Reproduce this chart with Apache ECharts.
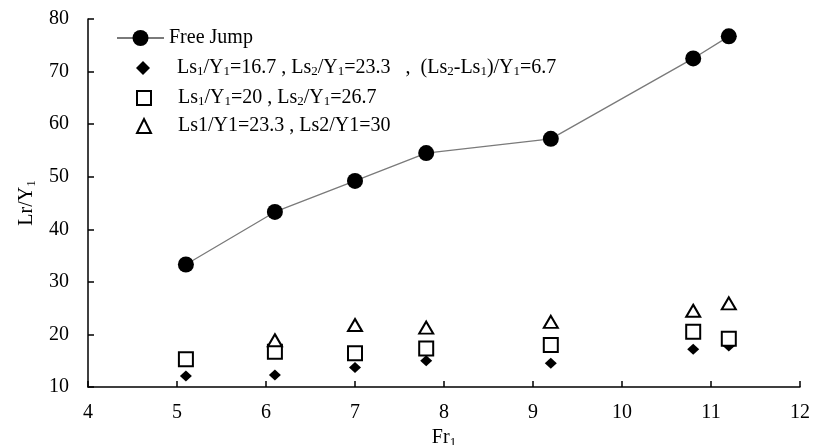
<!DOCTYPE html>
<html>
<head>
<meta charset="utf-8">
<script src="https://cdn.jsdelivr.net/npm/echarts@6/dist/echarts.min.js"></script>
<style>
  html, body { margin: 0; padding: 0; background: #fff; }
  #chart { width: 814px; height: 445px; }
</style>
</head>
<body>
<div id="chart"></div>
<script>
// Fr1 values (same for all series)
const fr = [5.1, 6.1, 7.0, 7.8, 9.2, 10.8, 11.2];
// Lr/Y1
const freeJump = [33.3, 43.3, 49.2, 54.5, 57.2, 72.5, 76.7];
const case1 = [12.1, 12.3, 13.7, 15.0, 14.5, 17.2, 17.8];
const case2 = [15.3, 16.7, 16.4, 17.3, 18.0, 20.5, 19.2];
const case3 = [null, 18.9, 21.8, 21.3, 22.4, 24.5, 25.9];

const names = ['Free Jump', 'case1', 'case2', 'case3'];
const legendText = {
  'Free Jump': 'Free Jump',
  'case1': 'Ls{s|1}/Y{s|1}=16.7 , Ls{s|2}/Y{s|1}=23.3   ,  (Ls{s|2}-Ls{s|1})/Y{s|1}=6.7',
  'case2': 'Ls{s|1}/Y{s|1}=20 , Ls{s|2}/Y{s|1}=26.7',
  'case3': 'Ls1/Y1=23.3 , Ls2/Y1=30'
};
// legend row centres (px)
const rowY = [38, 67, 97, 126];

function pairs(ys) {
  return fr.map((x, i) => [x, ys[i]]).filter(p => p[1] != null);
}

const serif = 'Liberation Serif, Times New Roman, serif';
const legendRich = {
  s: { fontFamily: serif, fontSize: 13, lineHeight: 20, verticalAlign: 'bottom', padding: [8, 0, 0, 0] },
  g: { width: 22, lineHeight: 20 }
};

function makeLegend(i) {
  const first = i === 0;
  return {
    orient: 'vertical',
    left: first ? 116 : 136,
    top: rowY[i] - 10,
    padding: 0,
    itemWidth: first ? 47 : 14,
    itemHeight: first ? 20 : 14,
    data: [names[i]],
    formatter: name => (first ? '' : '{g| }') + legendText[name],
    textStyle: { fontFamily: serif, fontSize: 20, lineHeight: 20, color: '#000', rich: legendRich }
  };
}

const chart = echarts.init(document.getElementById('chart'));
chart.setOption({
  animation: false,
  grid: { left: 88, right: 14, top: 19, bottom: 58, outerBoundsMode: 'none', containLabel: false },
  legend: names.map((n, i) => makeLegend(i)),
  xAxis: {
    type: 'value',
    min: 4, max: 12, interval: 1,
    name: 'Fr{s|1}',
    nameLocation: 'middle',
    nameGap: 32,
    nameTextStyle: {
      fontFamily: serif, fontSize: 20, color: '#000',
      rich: { s: { fontFamily: serif, fontSize: 13, padding: [9, 0, 0, 0] } }
    },
    axisLine: { lineStyle: { color: '#000', width: 1.5 } },
    axisTick: { inside: true, length: 6, lineStyle: { color: '#000', width: 1.5 } },
    axisLabel: { fontFamily: serif, fontSize: 20, color: '#000', margin: 16 },
    splitLine: { show: false }
  },
  yAxis: {
    type: 'value',
    min: 10, max: 80, interval: 10,
    name: 'Lr/Y{s|1}',
    nameLocation: 'middle',
    nameGap: 46,
    nameRotate: 90,
    nameTextStyle: {
      fontFamily: serif, fontSize: 20, color: '#000',
      rich: { s: { fontFamily: serif, fontSize: 13, padding: [9, 0, 0, 0] } }
    },
    axisLine: { show: true, lineStyle: { color: '#000', width: 1.5 } },
    axisTick: { show: true, inside: true, length: 6, lineStyle: { color: '#000', width: 1.5 } },
    axisLabel: { fontFamily: serif, fontSize: 20, color: '#000', margin: 19 },
    splitLine: { show: false }
  },
  series: [
    {
      name: 'Free Jump', type: 'line',
      data: pairs(freeJump),
      symbol: 'circle', symbolSize: 16,
      lineStyle: { color: '#7a7a7a', width: 1.3 },
      itemStyle: { color: '#000', opacity: 1 }
    },
    {
      name: 'case1', type: 'scatter',
      data: pairs(case1),
      symbol: 'diamond', symbolSize: [12, 11],
      itemStyle: { color: '#000', opacity: 1 }
    },
    {
      name: 'case2', type: 'scatter',
      data: pairs(case2),
      symbol: 'rect', symbolSize: 14,
      itemStyle: { color: '#fff', borderColor: '#000', borderWidth: 2, opacity: 1 }
    },
    {
      name: 'case3', type: 'scatter',
      data: pairs(case3),
      symbol: 'triangle', symbolSize: [14, 12],
      itemStyle: { color: '#fff', borderColor: '#000', borderWidth: 2, opacity: 1 }
    }
  ]
});
</script>
</body>
</html>
